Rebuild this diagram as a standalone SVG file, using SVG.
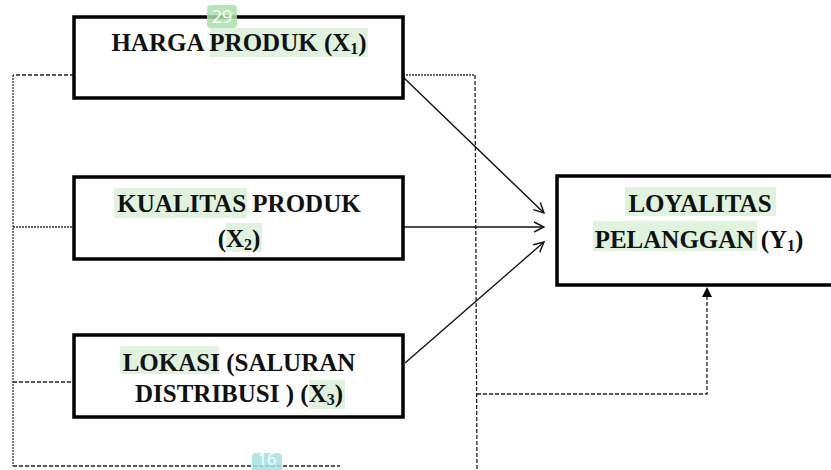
<svg xmlns="http://www.w3.org/2000/svg" width="831" height="470" viewBox="0 0 831 470">
<style>
.box{fill:#fff;stroke:#000;stroke-width:3.5}
.t{font-family:"Liberation Serif","Times New Roman",serif;font-weight:bold;font-size:25px;fill:#111;text-anchor:middle}
.sub{font-size:16px}
.hl{fill:#dff3df}
.solid{fill:none;stroke:#111;stroke-width:1.4}
.dash{fill:none;stroke:#222;stroke-width:1.3;stroke-dasharray:4 2}
.dot{fill:none;stroke:#333;stroke-width:1.3;stroke-dasharray:2 1}
.badge{font-family:"Open Sans","Liberation Sans",sans-serif;font-size:18px;fill:#fff;text-anchor:middle}
</style>
<defs>
<marker id="open" viewBox="0 0 12 12" refX="11" refY="6" markerWidth="12" markerHeight="12" markerUnits="userSpaceOnUse" orient="auto">
<path d="M1,1 L11,6 L1,11" fill="none" stroke="#111" stroke-width="1.4"/>
</marker>
<marker id="tri" viewBox="0 0 10 10" refX="5" refY="1" markerWidth="10" markerHeight="11" markerUnits="userSpaceOnUse" orient="0">
<path d="M0,10 L5,0 L10,10 Z" fill="#000"/>
</marker>
</defs>
<g id="connectors">
<path class="dash" d="M74,75 H13"/>
<path class="dot" d="M13,75 V466"/>
<path class="dot" d="M13,227 H74"/>
<path class="dash" d="M13,382 H74"/>
<path class="dash" d="M13,466 H340"/>
<path class="dot" d="M403,75 H475"/>
<path class="dash" d="M475,75 L477,470"/>
<path class="dash" d="M477,394 H707 V288" marker-end="url(#tri)"/>
<path class="solid" d="M403,77 L544,213" marker-end="url(#open)"/>
<path class="solid" d="M403,227 L544,227" marker-end="url(#open)"/>
<path class="solid" d="M405,363 L544,242" marker-end="url(#open)"/>
</g>
<g id="x1">
<rect class="box" x="74" y="17" width="329" height="81"/>
<rect class="hl" x="210" y="28" width="158" height="29"/>
<text class="t" x="239" y="51">HARGA PRODUK (X<tspan class="sub" dy="3">1</tspan><tspan dy="-3">)</tspan></text>
</g>
<g id="x2">
<rect class="box" x="74" y="177" width="329" height="82"/>
<rect class="hl" x="114" y="188" width="133" height="30"/>
<rect class="hl" x="226" y="223" width="36" height="29"/>
<text class="t" x="239" y="212">KUALITAS PRODUK</text>
<text class="t" x="239" y="247">(X<tspan class="sub" dy="3">2</tspan><tspan dy="-3">)</tspan></text>
</g>
<g id="x3">
<rect class="box" x="74" y="335" width="329" height="82"/>
<rect class="hl" x="120" y="346" width="99" height="28"/>
<rect class="hl" x="309" y="380" width="36" height="29"/>
<text class="t" x="239" y="371">LOKASI (SALURAN</text>
<text class="t" x="239" y="402">DISTRIBUSI ) (X<tspan class="sub" dy="3">3</tspan><tspan dy="-3">)</tspan></text>
</g>
<g id="y1">
<rect class="box" x="557" y="176" width="290" height="109"/>
<rect class="hl" x="625" y="187" width="151" height="29"/>
<rect class="hl" x="593" y="221" width="164" height="30"/>
<text class="t" x="700" y="212">LOYALITAS</text>
<text class="t" x="699" y="248">PELANGGAN (Y<tspan class="sub" dy="3">1</tspan><tspan dy="-3">)</tspan></text>
</g>
<g id="badge29">
<rect x="207" y="5" width="30" height="23" rx="4" fill="#a8e2a8" opacity="0.85"/>
<text class="badge" x="222" y="23">29</text>
</g>
<g id="badge16">
<rect x="252" y="453" width="30" height="25" rx="4" fill="#a6e0e0" opacity="0.85"/>
<text class="badge" x="267" y="465" style="font-size:16px">16</text>
</g>
</svg>
